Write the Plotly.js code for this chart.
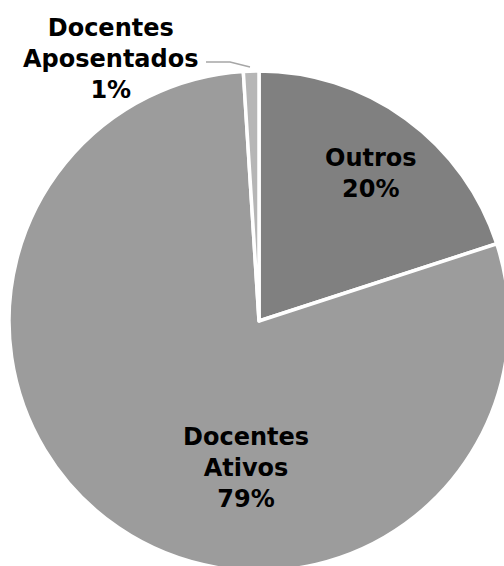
<!DOCTYPE html>
<html>
<head>
<meta charset="utf-8">
<script src="https://cdn.plot.ly/plotly-3.0.1.min.js"></script>
<style>
html,body{margin:0;padding:0;overflow:hidden;background:#fff;width:504px;height:566px;}
#chart{width:518px;height:571px;}
</style>
</head>
<body>
<div id="chart"></div>
<script>
const categories = ['Outros', 'Docentes Ativos', 'Docentes Aposentados'];
const displayLabels = ['Outros', 'Docentes<br>Ativos', 'Docentes<br>Aposentados'];
const values = [20, 79, 1];
const sliceColors = ['#808080', '#9c9c9c', '#b6b6b6'];

// pixel -> paper helpers (plot area: left 9, top 71, size 500x500)
const PX = x => (x - 9) / 500;
const PY = y => 1 - (y - 71) / 500;

const labelPos = [[371, 173], [246, 468], [111, 59]];
const fontSpec = {family: 'DejaVu Sans, Liberation Sans, Arial, sans-serif', size: 24, color: '#000000', weight: 'bold'};

const annotations = categories.map((c, i) => ({
  xref: 'paper', yref: 'paper',
  x: PX(labelPos[i][0]), y: PY(labelPos[i][1]),
  xanchor: 'center', yanchor: 'middle',
  text: '<b>' + displayLabels[i] + '<br>' + values[i] + '%</b>',
  showarrow: false,
  font: fontSpec,
  align: 'center'
}));

const data = [{
  type: 'pie',
  labels: categories,
  values: values,
  sort: false,
  direction: 'clockwise',
  rotation: 0,
  textinfo: 'none',
  hoverinfo: 'label+percent',
  marker: {colors: sliceColors, line: {color: '#ffffff', width: 3.5}},
  showlegend: false
}];

const layout = {
  width: 518, height: 571,
  margin: {l: 9, r: 9, t: 71, b: 0, pad: 0},
  paper_bgcolor: '#ffffff',
  plot_bgcolor: '#ffffff',
  showlegend: false,
  annotations: annotations,
  shapes: [{
    type: 'path', xref: 'paper', yref: 'paper',
    path: 'M ' + PX(206) + ',' + PY(62) + ' L ' + PX(230) + ',' + PY(62) + ' L ' + PX(250) + ',' + PY(67),
    line: {color: '#a6a6a6', width: 1.5}
  }]
};

Plotly.newPlot('chart', data, layout, {displayModeBar: false, staticPlot: true});
</script>
</body>
</html>
